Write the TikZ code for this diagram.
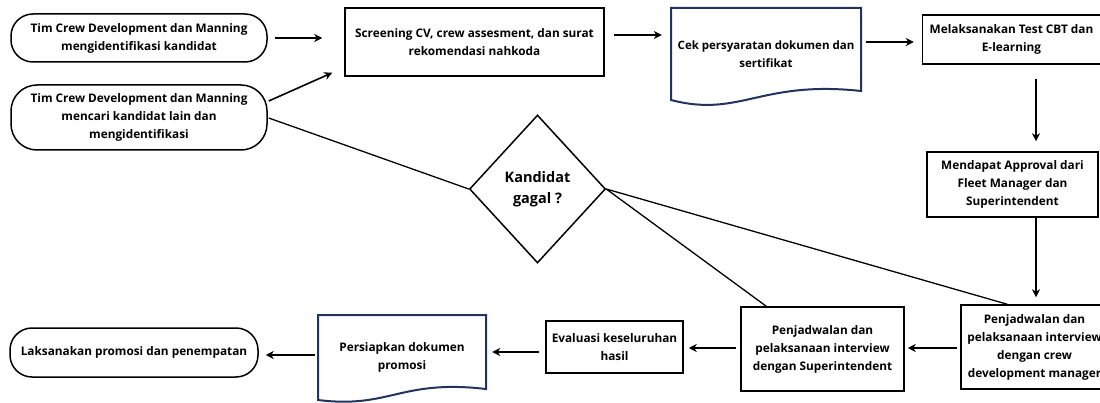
\documentclass[tikz,border=0pt]{standalone}
\usepackage{fontspec}
\setmainfont{Open Sans}
\usetikzlibrary{arrows.meta,calc,shapes.geometric}
\definecolor{docblue}{RGB}{34,52,94}
\begin{document}
\begin{tikzpicture}[x=1pt,y=-1pt,
  txt/.style={inner sep=0pt, align=center, font=\bfseries\fontsize{11.8}{18}\selectfont},
  box/.style={txt, draw, line width=1.5pt},
  pill/.style={box, rounded corners=22pt},
  doc/.style={draw=docblue, line width=2pt},
  arr/.style={-{Stealth[length=8pt,width=8pt,inset=2.5pt]}, line width=1.6pt},
  conn/.style={line width=1.3pt}]
\useasboundingbox (0,0) rectangle (1100,403);

% nodes
\node[pill, minimum width=256pt, minimum height=48pt] (t1) at (139,38)
  {Tim Crew Development dan Manning\\mengidentifikasi kandidat};
\node[box, rounded corners=26pt, minimum width=256pt, minimum height=65pt] (t2) at (139,117.5)
  {Tim Crew Development dan Manning\\mencari kandidat lain dan\\mengidentifikasi};
\node[box, minimum width=259pt, minimum height=68pt] (scr) at (474.5,42)
  {Screening CV, crew assesment, dan surat\\rekomendasi nahkoda};
\node[txt, minimum width=190pt, minimum height=92pt, font=\bfseries\fontsize{11.5}{18}\selectfont] (cek) at (766,54)
  {Cek persyaratan dokumen dan\\sertifikat};
\draw[doc] (671,8) -- (861,8) -- (861,91)
  .. controls (760,80) and (740,118) .. (671,100) -- cycle;
\node[box, minimum width=178pt, minimum height=49pt] (mel) at (1011.5,39.5)
  {Melaksanakan Test CBT dan\\E-learning};
\node[box, minimum width=171pt, minimum height=65pt] (men) at (1012.5,184.5)
  {Mendapat Approval dari\\Fleet Manager dan\\Superintendent};
\node[box, minimum width=147pt, minimum height=84pt] (pcrew) at (1034.5,347)
  {Penjadwalan dan\\pelaksanaan interview\\dengan crew\\development manager};
\node[box, minimum width=163pt, minimum height=84pt] (psup) at (822.5,349)
  {Penjadwalan dan\\pelaksanaan interview\\dengan Superintendent};
\node[box, minimum width=137pt, minimum height=52pt] (eva) at (614.5,347)
  {Evaluasi keseluruhan\\hasil};
\node[txt, minimum width=168pt, minimum height=85pt] (per) at (402,357.5)
  {Persiapkan dokumen\\promosi};
\draw[doc] (318,315) -- (486,315) -- (486,389)
  .. controls (400,379) and (390,409) .. (318,400) -- cycle;
\node[pill, minimum width=248pt, minimum height=49pt] (lak) at (134,352.5)
  {Laksanakan promosi dan penempatan};
\node[txt, draw, line width=1.5pt, shape=diamond, minimum width=136pt, minimum height=148pt,
  font=\bfseries\fontsize{14.5}{21}\selectfont] (dia) at (537.5,189) {Kandidat\\gagal ?};

% arrows
\draw[arr] ($(t1.east)+(7,0)$) -- ($(t1.east -| scr.west)+(-22,0)$);
\draw[arr] ($(t2.east)+(1,-16.5)$) -- ($(scr.south west)+(-12,-4)$);
\draw[arr] ($(scr.east)+(9,-7)$) -- ($(cek.west)+(-9,-19)$);
\draw[arr] ($(cek.east)+(5,-12)$) -- ($(mel.west)+(-8,2.5)$);
\draw[arr] ($(mel.south)+(24.5,14)$) -- ($(men.north)+(23.5,-10)$);
\draw[arr] ($(men.south)+(23.5,0)$) -- ($(pcrew.north)+(1.5,-7)$);
\draw[arr] ($(pcrew.west)+(-3,1)$) -- ($(psup.east)+(3,-1)$);
\draw[arr] ($(psup.west)+(-4,-1)$) -- ($(eva.east)+(5,1)$);
\draw[arr] ($(eva.west)+(-6,5)$) -- ($(per.east)+(6,-5.5)$);
\draw[arr] ($(per.west)+(-3,-2.5)$) -- ($(lak.east)+(7,2.5)$);

% lines
\draw[conn] ($(t2.east)+(1,0.5)$) -- (dia.west);
\draw[conn] (dia.east) -- ($(psup.north west)+(26,0)$);
\draw[conn] (dia.east) -- ($(pcrew.north west)+(47,0)$);
\end{tikzpicture}
\end{document}
